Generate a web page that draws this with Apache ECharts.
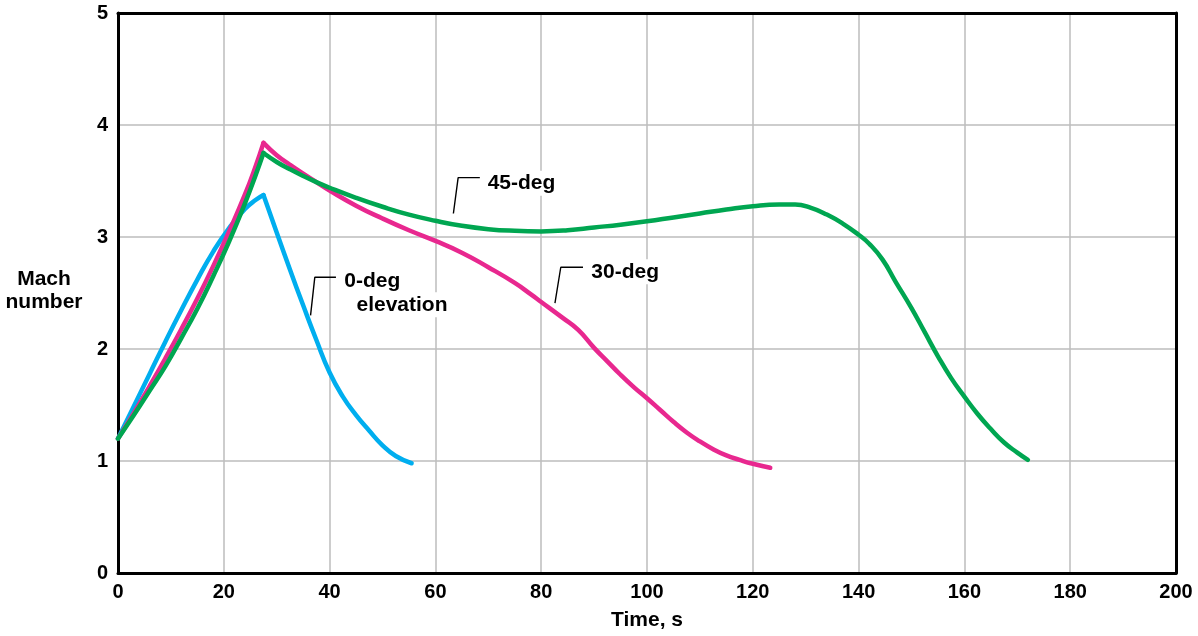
<!DOCTYPE html>
<html>
<head>
<meta charset="utf-8">
<script src="https://cdn.jsdelivr.net/npm/echarts@6/dist/echarts.min.js"></script>
<style>html,body{margin:0;padding:0;background:#fff}#c{width:1198px;height:636px}</style>
</head>
<body>
<div id="c"></div>
<script>
// ---- data ----
const time0 = [0, 3, 6, 9, 12, 15, 18, 21, 24, 26, 27.5, 30, 32.5, 35, 37.5, 40, 42.5, 45, 47.5, 50, 52.5, 55.5];
const mach0 = [1.2, 1.49, 1.78, 2.07, 2.35, 2.62, 2.87, 3.08, 3.25, 3.33, 3.375, 3.04, 2.71, 2.39, 2.08, 1.79, 1.575, 1.41, 1.27, 1.14, 1.045, 0.98];

const time30 = [0, 3, 6, 9, 12, 15, 18, 21, 24, 26, 27.5, 30, 32.5, 35, 37.5, 40, 45, 50, 55, 60, 65, 70, 75, 78, 80, 84, 87, 90, 92.5, 95, 97.5, 100, 102.5, 105, 107.5, 110, 112.5, 115, 117.5, 120, 123.3];
const mach30 = [1.2, 1.43, 1.67, 1.92, 2.18, 2.45, 2.74, 3.05, 3.38, 3.63, 3.84, 3.73, 3.645, 3.565, 3.49, 3.415, 3.28, 3.165, 3.06, 2.965, 2.86, 2.73, 2.59, 2.49, 2.42, 2.28, 2.17, 2.01, 1.89, 1.77, 1.66, 1.56, 1.455, 1.35, 1.255, 1.175, 1.105, 1.05, 1.01, 0.975, 0.94];

const time45 = [0, 3, 6, 9, 12, 15, 18, 21, 24, 26, 27.5, 30, 32.5, 35, 37.5, 40, 45, 50, 55, 60, 65, 70, 75, 80, 85, 90, 95, 100, 105, 110, 115, 120, 125, 128, 131, 134, 137, 140, 142, 144.5, 147, 150, 152.5, 155, 157.5, 160, 162.5, 165, 167.5, 170, 172];
const mach45 = [1.2, 1.41, 1.63, 1.85, 2.10, 2.36, 2.65, 2.96, 3.30, 3.55, 3.75, 3.67, 3.605, 3.545, 3.49, 3.44, 3.35, 3.27, 3.20, 3.145, 3.10, 3.07, 3.055, 3.05, 3.06, 3.085, 3.11, 3.14, 3.175, 3.21, 3.245, 3.275, 3.29, 3.29, 3.26, 3.20, 3.12, 3.02, 2.94, 2.80, 2.60, 2.365, 2.15, 1.935, 1.74, 1.575, 1.42, 1.285, 1.165, 1.075, 1.01];

const xTicks = [0, 20, 40, 60, 80, 100, 120, 140, 160, 180, 200];
const yTicks = [0, 1, 2, 3, 4, 5];

// annotation leaders & labels (data coordinates)
const leader0 = [[36.4, 2.30], [37.2, 2.64], [41.2, 2.64]];
const leader30 = [[82.6, 2.41], [83.7, 2.73], [87.9, 2.73]];
const leader45 = [[63.4, 3.21], [64.3, 3.53], [68.4, 3.53]];
const labels = [
  { text: '0-deg', at: [42.4, 2.605] },
  { text: 'elevation', at: [44.7, 2.395] },
  { text: '30-deg', at: [89.1, 2.69] },
  { text: '45-deg', at: [69.5, 3.48] }
];

// ---- chart ----
const FONT = '"Liberation Sans", Arial, Helvetica, sans-serif';
const C0 = '#00AEEF', C30 = '#E8288F', C45 = '#00A651';

function pairs(t, m) { return t.map((v, i) => [v, m[i]]); }
function peakIndex(m) { let k = 0; m.forEach((v, i) => { if (v > m[k]) k = i; }); return k; }
function curveSeries(t, m, color) {
  const p = pairs(t, m);
  const k = peakIndex(m);
  const base = { type: 'line', showSymbol: false, symbol: 'none', smooth: 0.5, silent: true,
    lineStyle: { color: color, width: 4.5, cap: 'round', join: 'round' }, z: 3 };
  return [
    Object.assign({}, base, { data: p.slice(0, k + 1) }),
    Object.assign({}, base, { data: p.slice(k) })
  ];
}
function leaderSeries(pts) {
  return { type: 'line', data: pts, symbol: 'none', showSymbol: false, silent: true,
    lineStyle: { color: '#000', width: 1.4 }, z: 4 };
}

const chart = echarts.init(document.getElementById('c'), null, { renderer: 'canvas' });
const series = [].concat(
  curveSeries(time0, mach0, C0),
  curveSeries(time30, mach30, C30),
  curveSeries(time45, mach45, C45),
  [leaderSeries(leader0), leaderSeries(leader30), leaderSeries(leader45)],
  [{
    type: 'line', data: [], silent: true, z: 2,
    markPoint: {
      silent: true, symbol: 'circle', symbolSize: 0, animation: false,
      data: labels.map(l => ({ coord: l.at, name: l.text, value: 0 })),
      label: { show: true, position: 'right', distance: 0, formatter: p => p.name,
        color: '#000', opacity: 1, fontFamily: FONT, fontWeight: 'bold', fontSize: 21,
        backgroundColor: '#fff', padding: [2, 2, 2, 2], textBorderWidth: 0 }
    }
  }]
);

const axisText = { color: '#000', fontFamily: FONT, fontWeight: 'bold', fontSize: 20 };
const gridLine = { show: true, lineStyle: { color: '#BDBDBD', width: 1.5 } };
const blackLine = { show: true, onZero: false, lineStyle: { color: '#000', width: 3 } };
const xMin = xTicks[0], xMax = xTicks[xTicks.length - 1], yMin = yTicks[0], yMax = yTicks[yTicks.length - 1];

chart.setOption({
  animation: false,
  backgroundColor: '#fff',
  grid: { left: 118, right: 22, top: 13, bottom: 61 },
  xAxis: [{
    type: 'value', min: xMin, max: xMax, interval: xTicks[1] - xTicks[0],
    name: 'Time, s', nameLocation: 'middle', nameGap: 37,
    nameTextStyle: Object.assign({}, axisText, { fontSize: 21 }),
    axisLine: blackLine, axisTick: { show: false },
    axisLabel: Object.assign({ margin: 9 }, axisText),
    splitLine: gridLine
  }, {
    type: 'value', position: 'top', min: xMin, max: xMax, interval: xTicks[1] - xTicks[0],
    axisLine: blackLine, axisTick: { show: false }, axisLabel: { show: false }, splitLine: { show: false }
  }],
  yAxis: [{
    type: 'value', min: yMin, max: yMax, interval: yTicks[1] - yTicks[0],
    axisLine: blackLine, axisTick: { show: false },
    axisLabel: Object.assign({ margin: 10 }, axisText),
    splitLine: gridLine
  }, {
    type: 'value', position: 'right', min: yMin, max: yMax, interval: yTicks[1] - yTicks[0],
    axisLine: blackLine, axisTick: { show: false }, axisLabel: { show: false }, splitLine: { show: false }
  }],
  graphic: [{
    type: 'text', x: 44, y: 268,
    style: { text: 'Mach\nnumber', textAlign: 'center', textVerticalAlign: 'top', fill: '#000', font: 'bold 21px ' + FONT, lineHeight: 23 }
  }],
  series: series
});
</script>
</body>
</html>
